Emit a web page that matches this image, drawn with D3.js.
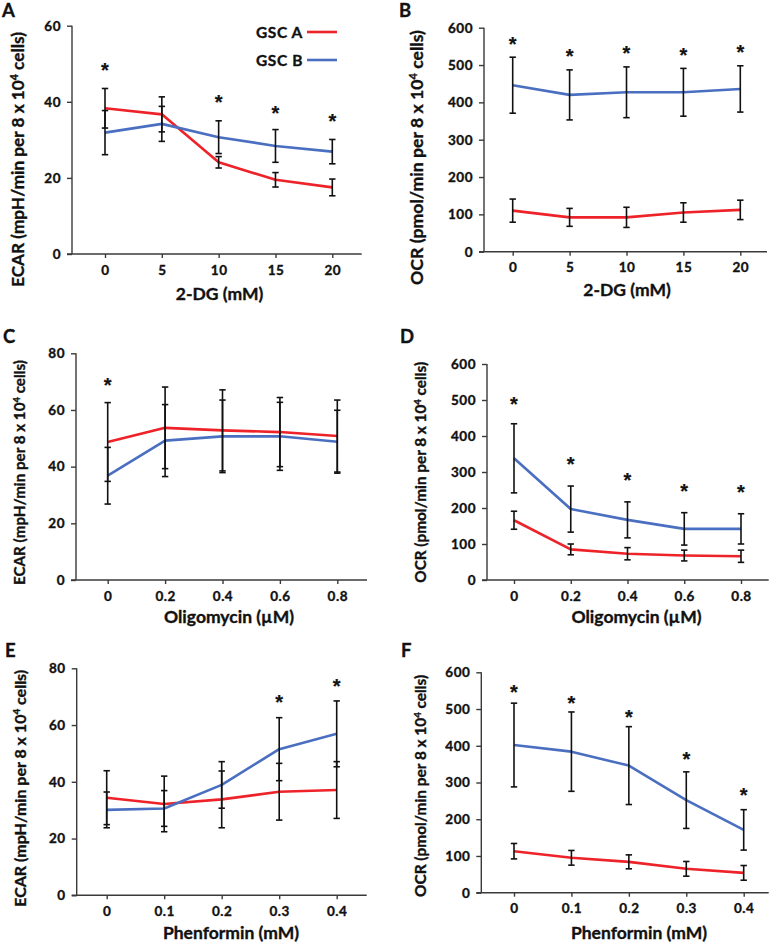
<!DOCTYPE html>
<html>
<head>
<meta charset="utf-8">
<script src="https://cdn.jsdelivr.net/npm/d3@7"></script>
<style>
  html, body { margin: 0; padding: 0; background: #fff; }
  svg { display: block; }
  text { font-family: Lato, "Open Sans", sans-serif; font-weight: bold; fill: #111;
         stroke: #111; stroke-width: 0.35px; }
</style>
</head>
<body>
<svg id="chart" width="774" height="943"></svg>
<script>
// ---------- DATA ----------
const seriesNames = ["GSC A", "GSC B"];

// Panel A: 2-DG, ECAR
const dgDoses = [0, 5, 10, 15, 20];
const ecarDG_A = [38.3, 36.7, 24.1, 19.5, 17.5];
const ecarDG_A_err = [5.2, 4.6, 1.5, 1.9, 2.2];
const ecarDG_B = [31.9, 34.2, 30.7, 28.4, 26.9];
const ecarDG_B_err = [5.8, 4.6, 4.3, 4.3, 3.2];
const ecarDG_sig = [49.3, null, 40.8, 38.1, 36.0];
const ecarTicks = [0, 20, 40, 60];

// Panel B: 2-DG, OCR
const ocrDG_A = [110, 92, 92, 105, 112];
const ocrDG_A_err = [31, 24, 27, 26, 26];
const ocrDG_B = [446, 420, 427, 427, 436];
const ocrDG_B_err = [75, 67, 68, 64, 62];
const ocrDG_sig = [565, 534, 542, 536, 545];
const ocrTicks = [0, 100, 200, 300, 400, 500, 600];

// Panel C: Oligomycin, ECAR
const oligoDoses = [0, 0.2, 0.4, 0.6, 0.8];
const ecarOligo_A = [48.7, 53.7, 52.8, 52.2, 50.8];
const ecarOligo_A_err = [13.9, 14.4, 14.3, 12.2, 12.7];
const ecarOligo_B = [36.8, 49.2, 50.7, 50.7, 48.8];
const ecarOligo_B_err = [10.0, 12.7, 12.8, 12.0, 11.1];
const ecarOligo_sig = [70, null, null, null, null];
const ecarTicks80 = [0, 20, 40, 60, 80];

// Panel D: Oligomycin, OCR
const ocrOligo_A = [166, 85, 73, 68, 66];
const ocrOligo_A_err = [25, 15, 17, 15, 17];
const ocrOligo_B = [338, 197, 167, 142, 142];
const ocrOligo_B_err = [96, 64, 50, 45, 42];
const ocrOligo_sig = [500, 331, 287, 256, 254];

// Panel E: Phenformin, ECAR
const phenDoses = [0, 0.1, 0.2, 0.3, 0.4];
const ecarPhen_A = [34.4, 32.2, 33.8, 36.5, 37.1];
const ecarPhen_A_err = [9.5, 9.8, 10.0, 10.0, 10.0];
const ecarPhen_B = [30.1, 30.6, 38.9, 51.5, 56.9];
const ecarPhen_B_err = [6.3, 6.3, 8.2, 11.1, 11.6];
const ecarPhen_sig = [null, null, null, 69.2, 75];

// Panel F: Phenformin, OCR
const ocrPhen_A = [113, 95, 84, 65, 54];
const ocrPhen_A_err = [21, 20, 19, 20, 20];
const ocrPhen_B = [402, 384, 346, 252, 171];
const ocrPhen_B_err = [114, 108, 106, 77, 55];
const ocrPhen_sig = [556, 527, 488, 373, 275];

const ecarLabel = ["ECAR (mpH/min per 8 x 10", "4", " cells)"];
const ocrLabel = ["OCR (pmol/min per 8 x 10", "4", " cells)"];

// ---------- STYLE ----------
const colors = ["#ee2229", "#4a6fc1"];
const axisColor = "#3a3a3a";

// ---------- PANELS (layout geometry) ----------
const panels = [
  { letter: "A", lx: 2, ly: 17,
    ax: 72, top: 25.7, bottom: 254, xFirst: 105, xLast: 332.3, xEnd: 361.7,
    yMax: 60, yTicks: ecarTicks, xs: dgDoses, xFmt: d3.format("d"),
    series: [[ecarDG_A, ecarDG_A_err], [ecarDG_B, ecarDG_B_err]], sig: ecarDG_sig,
    xTitle: "2-DG (mM)", xtx: 219.5, xty: 294,
    yTitle: ecarLabel, ytx: 18.3, yty: 159.5, ytLen: 255, legend: true },
  { letter: "B", lx: 399, ly: 17,
    ax: 484, top: 27.7, bottom: 251.7, xFirst: 512.7, xLast: 740.3, xEnd: 767,
    yMax: 600, yTicks: ocrTicks, xs: dgDoses, xFmt: d3.format("d"),
    series: [[ocrDG_A, ocrDG_A_err], [ocrDG_B, ocrDG_B_err]], sig: ocrDG_sig,
    xTitle: "2-DG (mM)", xtx: 627, xty: 290,
    yTitle: ocrLabel, ytx: 416.7, yty: 157.5, ytLen: 255 },
  { letter: "C", lx: 3, ly: 343.3,
    ax: 76, top: 353.3, bottom: 580, xFirst: 107.7, xLast: 337.3, xEnd: 367,
    yMax: 80, yTicks: ecarTicks80, xs: oligoDoses, xFmt: d3.format(""),
    series: [[ecarOligo_A, ecarOligo_A_err], [ecarOligo_B, ecarOligo_B_err]], sig: ecarOligo_sig,
    xTitle: "Oligomycin (\u00B5M)", xtx: 229, xty: 617,
    yTitle: ecarLabel, ytx: 20, yty: 472.5, ytLen: 225 },
  { letter: "D", lx: 400, ly: 343.3,
    ax: 487, top: 364, bottom: 580, xFirst: 514, xLast: 741, xEnd: 768.7,
    yMax: 600, yTicks: ocrTicks, xs: oligoDoses, xFmt: d3.format(""),
    series: [[ocrOligo_A, ocrOligo_A_err], [ocrOligo_B, ocrOligo_B_err]], sig: ocrOligo_sig,
    xTitle: "Oligomycin (\u00B5M)", xtx: 636.5, xty: 617,
    yTitle: ocrLabel, ytx: 420, yty: 472.3, ytLen: 221 },
  { letter: "E", lx: 5, ly: 657.3,
    ax: 76.7, top: 668.3, bottom: 895.3, xFirst: 106.7, xLast: 336.7, xEnd: 366.7,
    yMax: 80, yTicks: ecarTicks80, xs: phenDoses, xFmt: d3.format(""),
    series: [[ecarPhen_A, ecarPhen_A_err], [ecarPhen_B, ecarPhen_B_err]], sig: ecarPhen_sig,
    xTitle: "Phenformin (mM)", xtx: 231, xty: 933,
    yTitle: ecarLabel, ytx: 20.7, yty: 788.3, ytLen: 237 },
  { letter: "F", lx: 401, ly: 657.3,
    ax: 481.3, top: 672.3, bottom: 892.7, xFirst: 514, xLast: 743.7, xEnd: 768.7,
    yMax: 600, yTicks: ocrTicks, xs: phenDoses, xFmt: d3.format(""),
    series: [[ocrPhen_A, ocrPhen_A_err], [ocrPhen_B, ocrPhen_B_err]], sig: ocrPhen_sig,
    xTitle: "Phenformin (mM)", xtx: 639, xty: 933,
    yTitle: ocrLabel, ytx: 420.7, yty: 785.8, ytLen: 222 }
];

const svg = d3.select("#chart");

panels.forEach(p => {
  const g = svg.append("g");
  const x = d3.scaleLinear().domain([p.xs[0], p.xs[p.xs.length - 1]]).range([p.xFirst, p.xLast]);
  const y = d3.scaleLinear().domain([0, p.yMax]).range([p.bottom, p.top]);

  // panel letter
  g.append("text").attr("x", p.lx).attr("y", p.ly)
    .style("font-size", "18.5px").text(p.letter);

  // y axis
  const yAxis = d3.axisLeft(y).tickValues(p.yTicks).tickSize(5).tickPadding(6).tickFormat(d3.format("d"));
  const ya = g.append("g").attr("transform", `translate(${p.ax},0)`).call(yAxis);
  ya.select(".domain").attr("d", `M-0,${p.top}V${p.bottom}`);

  // x axis
  const xAxis = d3.axisBottom(x).tickValues(p.xs).tickSize(4).tickPadding(7).tickFormat(p.xFmt);
  const xa = g.append("g").attr("transform", `translate(0,${p.bottom})`).call(xAxis);
  xa.select(".domain").attr("d", `M${p.ax - 5},0H${p.xEnd}`);

  [ya, xa].forEach(a => {
    a.select(".domain").attr("stroke", axisColor).attr("stroke-width", 1.4);
    a.selectAll(".tick line").attr("stroke", axisColor).attr("stroke-width", 1.4);
    a.selectAll(".tick text").style("font-family", "Lato, sans-serif")
      .style("font-weight", "bold").style("font-size", "13.5px")
      .style("letter-spacing", "0.5px")
      .attr("fill", "#111").attr("stroke", "#111").attr("stroke-width", 0.35);
  });

  // lines
  const line = d3.line().x((d, i) => x(p.xs[i])).y(d => y(d));
  p.series.forEach((s, si) => {
    g.append("path").datum(s[0]).attr("d", line)
      .attr("fill", "none").attr("stroke", colors[si]).attr("stroke-width", 2.6)
      .attr("stroke-linejoin", "round");
  });

  // error bars
  p.series.forEach((s, si) => {
    const vals = s[0], errs = s[1];
    vals.forEach((v, i) => {
      const cx = x(p.xs[i]);
      const y1 = y(v + errs[i]), y2 = y(v - errs[i]);
      const eb = g.append("g").attr("stroke", "#111").attr("stroke-width", 1.6);
      eb.append("line").attr("x1", cx).attr("x2", cx).attr("y1", y1).attr("y2", y2);
      eb.append("line").attr("x1", cx - 3.2).attr("x2", cx + 3.2).attr("y1", y1).attr("y2", y1);
      eb.append("line").attr("x1", cx - 3.2).attr("x2", cx + 3.2).attr("y1", y2).attr("y2", y2);
    });
  });

  // significance asterisks
  p.sig.forEach((v, i) => {
    if (v == null) return;
    g.append("text").attr("x", x(p.xs[i])).attr("y", y(v) + 10.5)
      .attr("text-anchor", "middle")
      .style("font-family", "'Liberation Sans', Arial, sans-serif")
      .style("font-size", "20px").style("font-weight", "bold")
      .style("stroke-width", "0.2px")
      .text("*");
  });

  // x title
  g.append("text").attr("x", p.xtx).attr("y", p.xty + 6)
    .attr("text-anchor", "middle").style("font-size", "17.5px").text(p.xTitle);

  // y title (rotated)
  const fs = 16 * p.ytLen / 255;
  const yt = g.append("text")
    .attr("transform", `translate(${p.ytx + fs * 0.36},${p.yty}) rotate(-90)`)
    .attr("text-anchor", "middle").style("font-size", fs + "px");
  yt.append("tspan").text(p.yTitle[0]);
  yt.append("tspan").attr("baseline-shift", "super").style("font-size", (fs * 0.62) + "px").text(p.yTitle[1]);
  yt.append("tspan").text(p.yTitle[2]);
  const len = yt.node().getComputedTextLength();
  if (len > 0) {
    const nfs = fs * p.ytLen / len;
    yt.style("font-size", nfs + "px")
      .attr("transform", `translate(${p.ytx + nfs * 0.36},${p.yty}) rotate(-90)`);
    yt.select("tspan:nth-child(2)").style("font-size", (nfs * 0.62) + "px");
  }

  // legend
  if (p.legend) {
    const ly = [32, 60];
    seriesNames.forEach((n, si) => {
      g.append("text").attr("x", 303).attr("y", ly[si] + 5.5)
        .attr("text-anchor", "end").style("font-size", "15.5px")
        .style("letter-spacing", "0.6px").text(n);
      g.append("line").attr("x1", 307).attr("x2", 337).attr("y1", ly[si]).attr("y2", ly[si])
        .attr("stroke", colors[si]).attr("stroke-width", 2.6);
    });
  }
});
</script>
</body>
</html>
